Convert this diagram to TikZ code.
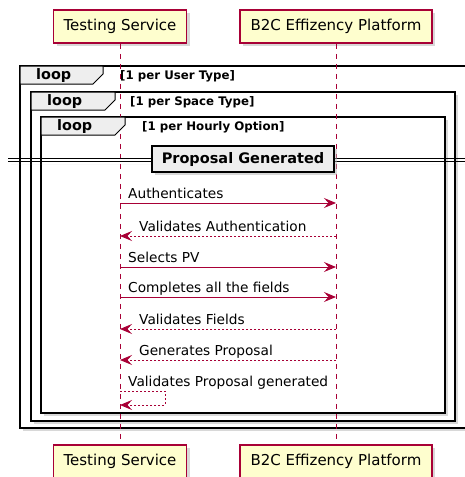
\documentclass[tikz,border=0pt]{standalone}
\usepackage{fontspec}
\setmainfont{DejaVu Sans}
\usetikzlibrary{arrows.meta,shadows}
\definecolor{umlred}{HTML}{A80036}
\definecolor{umlyellow}{HTML}{FEFECE}
\definecolor{umlgray}{HTML}{EEEEEE}

\begin{document}
\begin{tikzpicture}[x=1pt,y=-1pt,
	umlshadow/.style={drop shadow={shadow xshift=3pt,shadow yshift=-3pt,fill=black!30}},
	actor/.style={draw=umlred,line width=1.5pt,fill=umlyellow,umlshadow,minimum height=33pt,inner sep=0pt,font=\fontsize{15}{18}\selectfont},
	lifeline/.style={umlred,line width=1pt,dash pattern=on 5pt off 5pt},
	call/.style={umlred,line width=1pt,-{Stealth[length=12pt,width=10pt,inset=4.5pt]}},
	ret/.style={call,dash pattern=on 2pt off 2pt},
	msgtext/.style={anchor=base west,inner sep=0pt,font=\fontsize{13.7}{16}\selectfont},
	loopframe/.style={draw=black,line width=2pt,fill=white,umlshadow},
	looptab/.style={draw=black,line width=1pt,fill=umlgray},
	looplabel/.style={anchor=base west,inner sep=0pt,font=\fontsize{14.4}{17}\bfseries\selectfont},
	guard/.style={anchor=base west,inner sep=0pt,font=\fontsize{11.8}{14}\bfseries\selectfont}]
	  \useasboundingbox (0,0) rectangle (465,477);
	  \clip (0,0) rectangle (465,477);

	  \node[actor,minimum width=133pt] (tsTop) at (120,26.5) {Testing Service};
	  \node[actor,minimum width=192pt] (b2cTop) at (336,26.5) {B2C Effizency Platform};
	  \node[actor,minimum width=133pt] (tsBot) at (120,461.5) {Testing Service};
	  \node[actor,minimum width=192pt] (b2cBot) at (336,461.5) {B2C Effizency Platform};

	  \foreach \l/\t/\r/\b in {20/66/472/428, 31/92/455/421, 41/117/445/413}{\draw[loopframe] (\l,\t) rectangle (\r,\b);}

	  \draw[lifeline] (tsTop) -- (tsBot);
	  \draw[lifeline] (b2cTop) -- (b2cBot);

	  \foreach \l/\t/\w/\g/\gx [count=\i] in {20/66/103/User Type/120, 31/92/115/Space Type/130, 41/117/125/Hourly Option/142}{%
	  \draw[looptab] (\l,\t) -- (\w,\t) -- (\w,\t+8) -- (\w-10,\t+18) -- (\l,\t+18) -- cycle;
	  \node[looplabel] (loop\i) at (\l+16,\t+13.5) {loop};
	  \node[guard] (guard\i) at (\gx,\t+13.5) {[1 per \g]};
	  }

	  \draw[black,line width=1pt,umlshadow] (8,158) -- (472,158) (8,161) -- (472,161);
	  \node[draw=black,line width=1.5pt,fill=umlgray,umlshadow,minimum width=182pt,minimum height=26pt,inner sep=0pt,font=\fontsize{14.5}{17}\bfseries\selectfont] (divider) at (243,159) {Proposal Generated};

	  \foreach \y/\txt [count=\i] in {203/Authenticates, 267/Selects PV, 297/Completes all the fields}{%
	  \draw[call] (tsTop |- 0,\y) -- (b2cTop |- 0,\y);
	  \node[msgtext] (call\i) at (128,\y-4.5) {\txt};
	  }
	  \foreach \y/\txt [count=\i] in {236/Validates Authentication, 329/Validates Fields, 360/Generates Proposal}{%
	  \draw[ret] (b2cTop |- 0,\y) -- (tsTop |- 0,\y);
	  \node[msgtext] (ret\i) at (139,\y-4.5) {\txt};
	  }
	  \coordinate (selfA) at (165,391);
	  \coordinate (selfB) at (165,405);
	  \draw[ret] (tsTop |- selfA) -- (selfA) -- (selfB) -- (tsTop |- selfB);
	  \node[msgtext] (self) at (128,386) {Validates Proposal generated};
	\end{tikzpicture}
\end{document}
